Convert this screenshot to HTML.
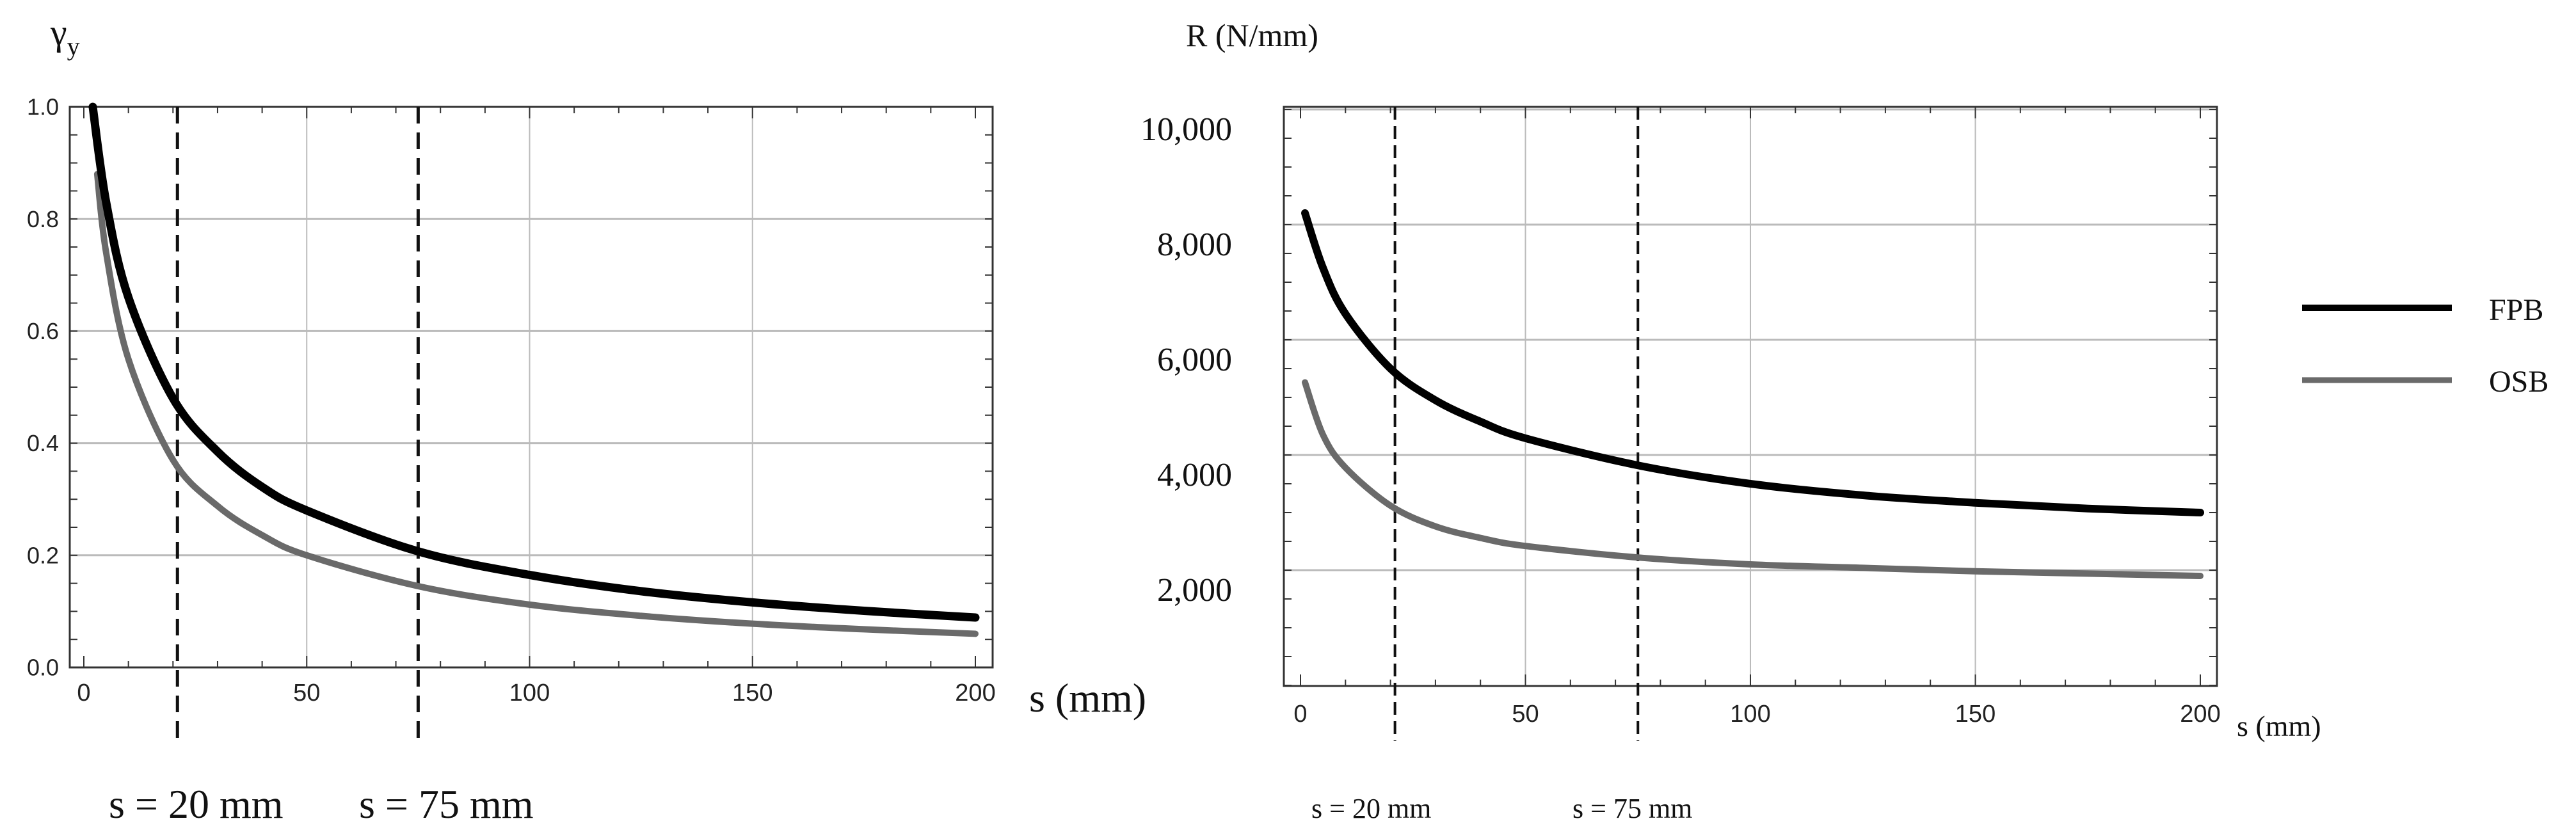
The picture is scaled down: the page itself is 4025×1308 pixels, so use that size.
<!DOCTYPE html>
<html><head><meta charset="utf-8">
<style>
html,body{margin:0;padding:0;background:#fff;}
svg{display:block;}
.ser{font-family:"Liberation Serif",serif;fill:#111;}
.san{font-family:"Liberation Sans",sans-serif;fill:#222;}
</style></head>
<body>
<svg id="fig" width="4025" height="1308" viewBox="0 0 4025 1308" xmlns="http://www.w3.org/2000/svg">
<g id="left"></g>
<g id="right"></g>
</svg>
<script>
const leftS = [2,5,10,20,30,40,50,75,100,125,150,175,200];
const leftFPB = [1.0,0.83,0.66,0.48,0.385,0.322,0.28,0.207,0.165,0.136,0.116,0.101,0.089];
const leftOSBs = [3,5,10,20,30,40,50,75,100,125,150,175,200];
const leftOSB = [0.88,0.74,0.55,0.37,0.288,0.236,0.2,0.145,0.112,0.092,0.078,0.068,0.06];
const leftYTicks = [0,0.2,0.4,0.6,0.8,1.0];
const leftYLabels = ["0.0","0.2","0.4","0.6","0.8","1.0"];
const xTicks = [0,50,100,150,200];
const dashedS = [21,75];
const rightS = [1,5,10,20,30,40,50,75,100,125,150,175,200];
const rightFPB = [8200,7250,6450,5500,4950,4580,4290,3820,3500,3300,3170,3070,3000];
const rightOSB = [5260,4350,3780,3120,2760,2560,2420,2220,2100,2040,1980,1940,1900];
const rightYTicks = [2000,4000,6000,8000,10000];
const rightYLabels = ["2,000","4,000","6,000","8,000","10,000"];

const NS="http://www.w3.org/2000/svg";
function mk(parent,tag,attrs,text){const e=document.createElementNS(NS,tag);for(const k in attrs)e.setAttribute(k,attrs[k]);if(text!==undefined)e.textContent=text;parent.appendChild(e);return e;}
function smooth(pts){let d="M"+pts[0][0]+","+pts[0][1];for(let i=0;i<pts.length-1;i++){const p0=pts[Math.max(0,i-1)],p1=pts[i],p2=pts[i+1],p3=pts[Math.min(pts.length-1,i+2)];const c1=[p1[0]+(p2[0]-p0[0])/6,p1[1]+(p2[1]-p0[1])/6],c2=[p2[0]-(p3[0]-p1[0])/6,p2[1]-(p3[1]-p1[1])/6];d+=" C"+c1[0]+","+c1[1]+" "+c2[0]+","+c2[1]+" "+p2[0]+","+p2[1];}return d;}

function chart(g,o){
  const X=v=>o.x0+(v-0)*(o.x1-o.x0)/200;
  const Y=v=>o.yb+(v-o.ymin)*(o.yt-o.yb)/(o.ymax-o.ymin);
  xTicks.forEach(t=>{if(t>0&&t<200){const l=mk(g,"line",{x1:X(t),x2:X(t),y1:o.ft,y2:o.fb,stroke:"#bbb","stroke-width":2});
    
    }});
  o.yticks.forEach(t=>{const l=mk(g,"line",{x1:o.fl,x2:o.fr,y1:Y(t),y2:Y(t),stroke:"#bbb","stroke-width":3});
    
    });
  const fr=mk(g,"rect",{x:o.fl,y:o.ft,width:o.fr-o.fl,height:o.fb-o.ft,fill:"none",stroke:"#333","stroke-width":3});
  
  
  for(let t=0;t<=200;t+=10){const L=t%50==0?18:10;
    mk(g,"line",{x1:X(t),x2:X(t),y1:o.fb,y2:o.fb-L,stroke:"#333","stroke-width":2});
    mk(g,"line",{x1:X(t),x2:X(t),y1:o.ft,y2:o.ft+L,stroke:"#333","stroke-width":2});}
  for(let t=o.ymin;t<=o.ymax+1e-9;t+=o.minor){const y=Y(t);
    mk(g,"line",{x1:o.fl,x2:o.fl+12,y1:y,y2:y,stroke:"#333","stroke-width":2});
    mk(g,"line",{x1:o.fr,x2:o.fr-12,y1:y,y2:y,stroke:"#333","stroke-width":2});}
  xTicks.forEach(t=>{const e=mk(g,"text",{x:X(t),y:o.xly,"text-anchor":"middle",class:"san","font-size":o.xlf},String(t));
    
    });
  o.yticks.forEach((t,i)=>{const e=mk(g,"text",{x:o.ylx,y:Y(t)+o.ylf*0.35+o.yoff,"text-anchor":"end",class:o.ycls,"font-size":o.ylf},o.ylabels[i]);
    
    });
  dashedS.forEach(s=>{const l=mk(g,"line",{x1:X(s),x2:X(s),y1:o.ft,y2:o.db,stroke:"#111","stroke-width":o.dw,"stroke-dasharray":o.dash});
    
    });
  const p2=mk(g,"path",{d:smooth(o.s2.map((s,i)=>[X(s),Y(o.v2[i])])),fill:"none",stroke:"#6a6a6a","stroke-width":o.w2,"stroke-linecap":"round"});
  
  
  const p1=mk(g,"path",{d:smooth(o.s1.map((s,i)=>[X(s),Y(o.v1[i])])),fill:"none",stroke:"#000","stroke-width":o.w1,"stroke-linecap":"round"});
  
  
}

const L=document.getElementById("left");
chart(L,{x0:131,x1:1524,fl:109,fr:1551,ft:167,fb:1043,yt:167,yb:1043,ymin:0,ymax:1,minor:0.05,
  yticks:leftYTicks,ylabels:leftYLabels,ylx:92,ylf:36,ycls:"san",yoff:0,xly:1095,xlf:38,db:1162,dw:5,dash:"26,14",
  s1:leftS,v1:leftFPB,s2:leftOSBs,v2:leftOSB,w1:13,w2:10});
const R=document.getElementById("right");
chart(R,{x0:2032,x1:3438,fl:2006,fr:3464,ft:167,fb:1072,yt:171,yb:1071,ymin:0,ymax:10000,minor:500,
  yticks:rightYTicks,ylabels:rightYLabels,ylx:1925,ylf:52,ycls:"ser",yoff:30,xly:1128,xlf:38,db:1158,dw:4,dash:"20,10",
  s1:rightS,v1:rightFPB,s2:rightS,v2:rightOSB,w1:12,w2:10});

function txt(g,x,y,size,str,name,anchor){const e=mk(g,"text",{x:x,y:y,class:"ser","font-size":size,"text-anchor":anchor||"start"},str);
  
  return e;}
const gl=txt(L,79,70,58,"γ","y-axis-title");
mk(gl,"tspan",{dy:16,"font-size":40},"y");
txt(L,1608,1112,64,"s (mm)","x-axis-title");
txt(L,170,1278,64,"s = 20 mm","s20-label");
txt(L,561,1278,64,"s = 75 mm","s75-label");
txt(R,1853,72,50,"R (N/mm)","y-axis-title");
txt(R,3495,1150,46,"s (mm)","x-axis-title");
txt(R,2049,1278,44,"s = 20 mm","s20-label");
txt(R,2457,1278,44,"s = 75 mm","s75-label");
const lg=mk(R,"g",{});


const l1=mk(lg,"line",{x1:3597,x2:3831,y1:481,y2:481,stroke:"#000","stroke-width":10});


txt(lg,3889,500,48,"FPB","legend-fpb-label");
const l2=mk(lg,"line",{x1:3597,x2:3831,y1:594,y2:594,stroke:"#6a6a6a","stroke-width":9});


txt(lg,3889,612,48,"OSB","legend-osb-label");
</script>
</body></html>
